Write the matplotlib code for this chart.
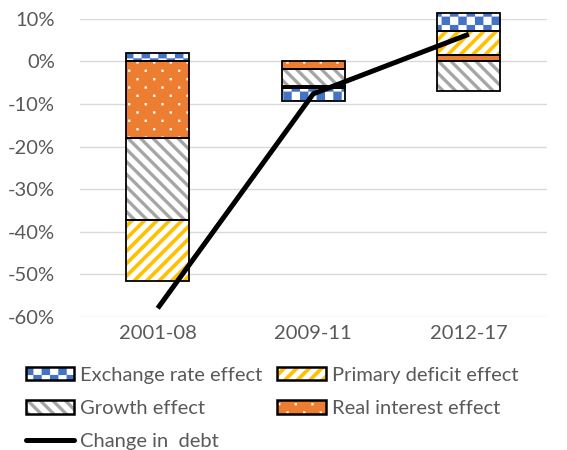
import warnings

import matplotlib
matplotlib.use('Agg')
import matplotlib.pyplot as plt
import matplotlib.hatch as mhatch
import numpy as np
from matplotlib.patches import Patch
from matplotlib.path import Path
from matplotlib.ticker import FuncFormatter

warnings.filterwarnings('ignore')

# Debt decomposition by period, % points
categories = ['2001-08', '2009-11', '2012-17']
exchange_rate = [2.1, -2.9, 4.1]
primary_deficit = [-14.4, -0.5, 5.7]
growth = [-19.3, -4.1, -7.0]
real_interest = [-18.0, -1.7, 1.5]
change_in_debt = [-58.0, -7.6, 6.4]


# Extra fill patterns (checks, wide stripes, sparse dots) as filled quads
def add_hatch(char, make_quads):
    class _Hatch(mhatch.HatchPatternBase):
        def __init__(self, hatch, density):
            self.quads = make_quads() if char in hatch else []
            self.num_vertices = len(self.quads) * 5

        def set_vertices_and_codes(self, vertices, codes):
            for k, q in enumerate(self.quads):
                vertices[k * 5:k * 5 + 4] = q
                vertices[k * 5 + 4] = q[0]
                codes[k * 5] = Path.MOVETO
                codes[k * 5 + 1:k * 5 + 4] = Path.LINETO
                codes[k * 5 + 4] = Path.CLOSEPOLY

    mhatch._hatch_types.append(_Hatch)


def checker_quads(n=12):
    s = 1.0 / n
    return [[(i * s, j * s), ((i + 1) * s, j * s), ((i + 1) * s, (j + 1) * s), (i * s, (j + 1) * s)]
            for i in range(n) for j in range(n) if (i + j) % 2 == 0]


def ne_quads(p=1 / 8, w=0.05):
    return [[(k * p - 0.1, -0.1), (k * p + w - 0.1, -0.1), (k * p + w + 1.1, 1.1), (k * p + 1.1, 1.1)]
            for k in range(-10, 11)]


def se_quads(p=1 / 8, w=0.045):
    return [[(k * p + 0.1, -0.1), (k * p + w + 0.1, -0.1), (k * p + w - 1.1, 1.1), (k * p - 1.1, 1.1)]
            for k in range(-2, 20)]


def dot_quads(d=0.022):
    quads = []
    for r in range(12):
        y = r / 12 + 1 / 24
        for j in range(6):
            x = j / 6 + (r % 2) / 12 + 1 / 24
            quads.append([(x - d / 2, y - d / 2), (x + d / 2, y - d / 2),
                          (x + d / 2, y + d / 2), (x - d / 2, y + d / 2)])
    return quads


add_hatch('c', checker_quads)
add_hatch('n', ne_quads)
add_hatch('s', se_quads)
add_hatch('d', dot_quads)

plt.rcParams['font.family'] = ['Lato', 'DejaVu Sans']
plt.rcParams['hatch.linewidth'] = 0.1
text_color = '#595959'

fig, ax = plt.subplots(figsize=(5.67, 4.5), dpi=100)
fig.subplots_adjust(left=0.141, right=0.964, top=0.958, bottom=0.296)

x = np.arange(len(categories))
width = 0.405

# Stacking order: real interest, growth, primary deficit, exchange rate
series = [
    (real_interest, '#ED7D31', 'white', 'd', 'Real interest effect'),
    (growth, 'white', '#A5A5A5', 's', 'Growth effect'),
    (primary_deficit, 'white', '#FFC000', 'n', 'Primary deficit effect'),
    (exchange_rate, 'white', '#4472C4', 'c', 'Exchange rate effect'),
]

handles = {}
pos_bottom = np.zeros(len(categories))
neg_bottom = np.zeros(len(categories))
for values, face, hcolor, hatch, label in series:
    values = np.array(values)
    bottom = np.where(values >= 0, pos_bottom, neg_bottom)
    ax.bar(x, values, width, bottom=bottom, color=face, edgecolor=hcolor,
           hatch=hatch, linewidth=0, zorder=2, clip_on=False)
    ax.bar(x, values, width, bottom=bottom, fill=False, edgecolor='black',
           linewidth=1.3, zorder=3, clip_on=False)
    handles[label] = (Patch(facecolor=face, edgecolor=hcolor, hatch=hatch, linewidth=0),
                      Patch(fill=False, edgecolor='black', linewidth=1.8))
    pos_bottom += np.where(values >= 0, values, 0)
    neg_bottom += np.where(values < 0, values, 0)

ax.plot(x, change_in_debt, color='black', linewidth=3.6,
        solid_capstyle='butt', zorder=4, clip_on=False)
handles['Change in  debt'] = ax.plot([], [], color='black', linewidth=3.6,
                                     solid_capstyle='round')[0]

# Axes
ax.set_xlim(-0.5, 2.5)
ax.set_ylim(-60, 10)
ax.set_yticks(np.arange(-60, 11, 10))
ax.yaxis.set_major_formatter(FuncFormatter(lambda v, _: f'{v:.0f}%'))
ax.set_xticks(x)
ax.set_xticklabels(categories)
ax.tick_params(axis='both', length=0, labelsize=14.5, labelcolor=text_color)
ax.tick_params(axis='y', pad=18)
ax.tick_params(axis='x', pad=6)
ax.grid(axis='y', color='#D9D9D9', linewidth=1.0)
ax.set_axisbelow(True)
for spine in ax.spines.values():
    spine.set_visible(False)

# Legend: two columns, line on its own row
order = ['Exchange rate effect', 'Growth effect', 'Change in  debt',
         'Primary deficit effect', 'Real interest effect']
leg = fig.legend([handles[k] for k in order], order, ncol=2, loc='upper left',
                 bbox_to_anchor=(0.045, 0.185), frameon=False, fontsize=14.5,
                 handlelength=2.4, handleheight=0.65, handletextpad=0.3,
                 columnspacing=0.75, labelspacing=0.8, borderpad=0, borderaxespad=0)
for t in leg.get_texts():
    t.set_color(text_color)

plt.savefig('out.png', dpi=100)
plt.close()
